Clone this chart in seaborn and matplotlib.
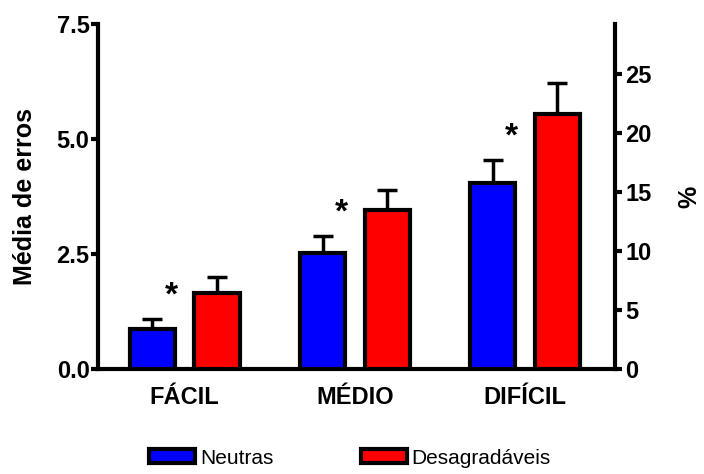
import numpy as np
import pandas as pd
import matplotlib
matplotlib.use("Agg")
import matplotlib.pyplot as plt
import seaborn as sns
from matplotlib.patches import Patch

# Dados
niveis = ["FÁCIL", "MÉDIO", "DIFÍCIL"]
neutras = [0.87, 2.52, 4.04]
neutras_ep = [0.21, 0.37, 0.50]
desagradaveis = [1.65, 3.45, 5.54]
desagradaveis_ep = [0.36, 0.45, 0.67]

df = pd.DataFrame({
    "nivel": niveis * 2,
    "media": neutras + desagradaveis,
    "tipo": ["Neutras"] * 3 + ["Desagradáveis"] * 3,
})

sns.set_style("ticks")
plt.rcParams["font.family"] = ["Liberation Sans", "DejaVu Sans"]
plt.rcParams["text.color"] = "black"
plt.rcParams["axes.labelcolor"] = "black"
plt.rcParams["xtick.color"] = "black"
plt.rcParams["ytick.color"] = "black"
plt.rcParams["axes.edgecolor"] = "black"

fig = plt.figure(figsize=(7.04, 4.74), dpi=100)
ax = fig.add_axes([0.139, 0.2215, 0.735, 0.7275])

sns.barplot(data=df, x="nivel", y="media", hue="tipo",
            palette=["#0000ff", "#ff0000"], saturation=1,
            edgecolor="black", linewidth=3,
            width=0.76, gap=0.3, legend=False, ax=ax, zorder=3)

# barras de erro (só para cima)
bars = [p for p in ax.patches if p.get_height() > 0]
erros = neutras_ep + desagradaveis_ep
for p, e in zip(bars, erros):
    cx = p.get_x() + p.get_width() / 2
    ax.errorbar(cx, p.get_height(), yerr=[[0], [e]], fmt="none",
                ecolor="black", elinewidth=2.5, capsize=7, capthick=2.5, zorder=2)

# asteriscos
for p, e in zip(bars[:3], neutras_ep):
    cx = p.get_x() + p.get_width() * 0.92
    ax.text(cx, p.get_height() + e + 0.5, "*", ha="center", va="center",
            fontsize=24, fontweight="bold")

ax.set_xlim(-0.51, 2.53)
ax.set_ylim(0, 7.5)
ax.set_yticks([0, 2.5, 5.0, 7.5])
ax.set_yticklabels(["0.0", "2.5", "5.0", "7.5"])
ax.set_xlabel("")
ax.set_ylabel("Média de erros", fontsize=18, fontweight="bold", labelpad=14)
for s in ["top", "right"]:
    ax.spines[s].set_visible(False)
for s in ["left", "bottom"]:
    ax.spines[s].set_linewidth(3)
ax.tick_params(axis="y", width=3, length=5, labelsize=17, pad=1)
ax.tick_params(axis="x", length=0, labelsize=17, pad=12)
for t in ax.get_yticklabels() + ax.get_xticklabels():
    t.set_fontweight("bold")

ax2 = ax.twinx()
ax2.set_ylim(0, 29.2)
ax2.set_yticks([0, 5, 10, 15, 20, 25])
ax2.set_ylabel("%", fontsize=18, fontweight="bold", labelpad=19)
for s in ["top", "left", "bottom"]:
    ax2.spines[s].set_visible(False)
ax2.spines["right"].set_linewidth(3)
ax2.tick_params(axis="y", width=3, length=5, labelsize=17, pad=2)
for t in ax2.get_yticklabels():
    t.set_fontweight("bold")

handles = [Patch(facecolor="#0000ff", edgecolor="black", linewidth=3),
           Patch(facecolor="#ff0000", edgecolor="black", linewidth=3)]
fig.legend(handles, ["Neutras", "Desagradáveis"], loc="center",
           bbox_to_anchor=(0.497, 16 / 474), ncol=2, frameon=False,
           handlelength=2.2, handleheight=0.65,
           handletextpad=0.25, columnspacing=4.2,
           prop={"family": ["Liberation Sans Narrow", "Liberation Sans"], "size": 15})

fig.savefig("out.png", dpi=100)
